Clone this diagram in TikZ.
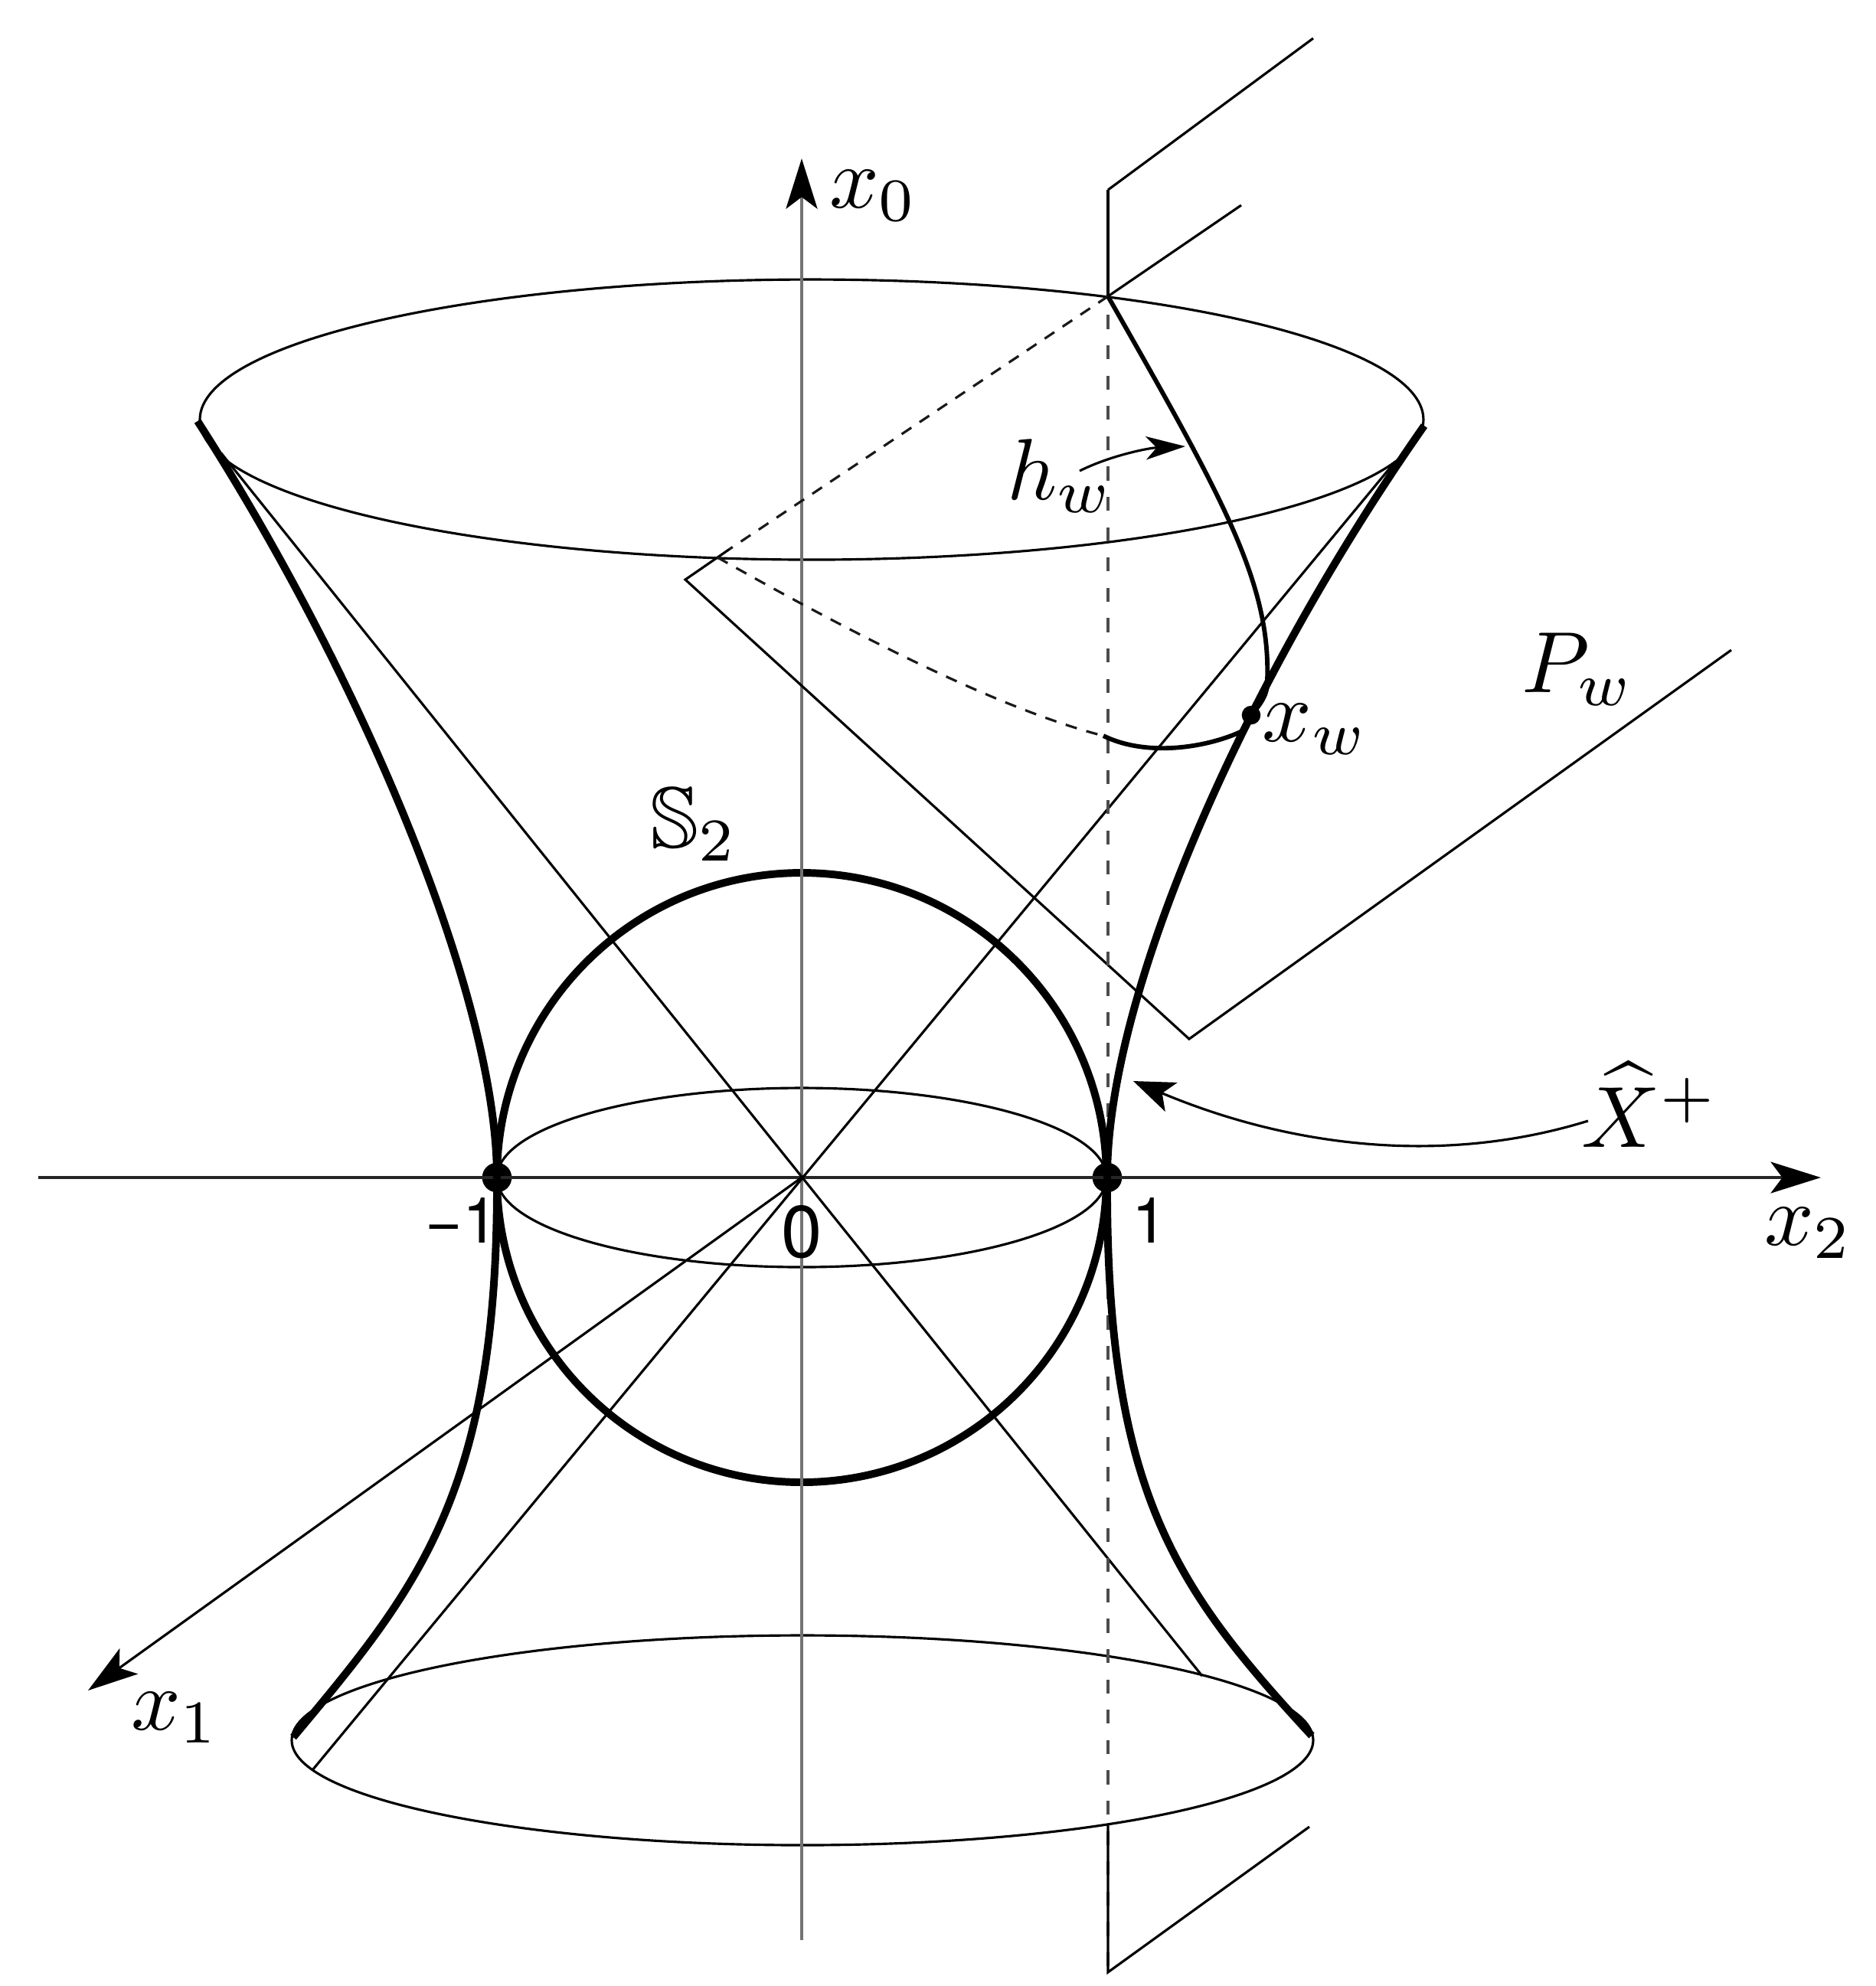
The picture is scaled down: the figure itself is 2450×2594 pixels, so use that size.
\documentclass[tikz,border=0pt]{standalone}
\usepackage{amsmath,amssymb}
\usepackage[no-math]{fontspec}
\newfontfamily\hvfont{TeX Gyre Heros}
\usetikzlibrary{arrows.meta}
\tikzset{
  thinln/.style={line width=0.27pt,black},
  xaxisln/.style={line width=0.33pt,black!85},
  yaxisln/.style={line width=0.42pt,black!55},
  thickln/.style={line width=0.85pt,black},
  medln/.style={line width=0.5pt,black},
  vdash/.style={line width=0.33pt,black!70,dash pattern=on 1.55pt off 1.836pt,dash phase=2.96pt},
  sdash/.style={line width=0.27pt,black!90,dash pattern=on 1.3pt off 1.1pt},
  axistip/.style={-{Stealth[length=5.6pt,width=3.5pt,inset=1.3pt,black]}},
  xtip/.style={-{Stealth[length=4.6pt,width=3.5pt,inset=1.1pt,black]}},
  smalltip/.style={-{Stealth[length=4.4pt,width=2.6pt,inset=1.2pt,black]}},
  dot/.style={circle,fill=black,inner sep=0pt,minimum size=3.3pt},
  wdot/.style={circle,fill=black,inner sep=0pt,minimum size=2.1pt},
  lab/.style={inner sep=0pt,outer sep=0pt,scale=0.97},
  numlab/.style={inner sep=0pt,outer sep=0pt,font=\hvfont\fontsize{7.1}{9}\selectfont},
  zerolab/.style={inner sep=0pt,outer sep=0pt,font=\hvfont\fontsize{8.2}{9}\selectfont},
}
\begin{document}
\begin{tikzpicture}[x=0.0855pt,y=-0.0855pt]
\useasboundingbox[fill=white] (0,0) rectangle (2450,2594);
% key points
\coordinate (O) at (1047,1538);
\coordinate (x2a) at (50,1538);
\coordinate (x2b) at (2378,1538);
\coordinate (x0a) at (1047,2534);
\coordinate (x0b) at (1047,207);
\coordinate (x1b) at (115,2208);
\coordinate (a1) at (289,592);
\coordinate (a2) at (1570,2189);
\coordinate (b1) at (1822,603);
\coordinate (b2) at (408,2312);
\coordinate (pa) at (895,757);
\coordinate (pb) at (1553,1357);
\coordinate (pc) at (2261,849);
\coordinate (pd) at (953,717);
\coordinate (pe) at (937,728);
\coordinate (va) at (1447,387);
\coordinate (vt) at (1447,248);
\coordinate (vtr) at (1715,50);
\coordinate (var) at (1621,268);
\coordinate (vbs) at (1447,2384);
\coordinate (vb) at (1447,2576);
\coordinate (vbr) at (1710,2386);
\coordinate (ve) at (1441,961);
\coordinate (gk) at (1655,890);
\coordinate (gs) at (1622,955);
\coordinate (tl) at (258,550);
\coordinate (tr) at (1860,556);
\coordinate (bl) at (383,2269);
\coordinate (brr) at (1713,2267);
\coordinate (hs) at (1410,615);
\coordinate (he) at (1548,583);
\coordinate (xs) at (2074,1464);
\coordinate (xe) at (1480,1412);
\node[dot] (m) at (649,1538) {};
\node[dot] (p) at (1446,1538) {};
\node[wdot] (w) at (1634,934) {};
% ellipses
\draw[thinln] (1060,548) ellipse [x radius=799,y radius=183];
\draw[thinln] (1047,1538) ellipse [x radius=398,y radius=117];
\draw[thinln] (1048,2273) ellipse [x radius=667,y radius=137];
% sphere
\draw[thickln] (O) circle [radius=398];
% axes
\draw[xaxisln,axistip] (x2a) -- (x2b);
\draw[yaxisln,axistip] (x0a) -- (x0b);
\draw[thinln,axistip] (O) -- (x1b);
% asymptotes
\draw[thinln] (a1) -- (a2);
\draw[thinln] (b1) -- (b2);
% plane
\draw[thinln] (pd) -- (pa) -- (pb) -- (pc);
\draw[sdash] (va) -- (pd);
\draw[sdash] (pe) .. controls (1100,820) and (1300,925) .. (ve);
\draw[thinln] (vt) -- (vtr);
\draw[thinln] (va) -- (var);
\draw[vdash] (vt) -- (vb);
\draw[thinln] (vbs) -- (vb) -- (vbr);
\draw[thinln] (vt) -- (va);
% hyperboloid outline
\draw[thickln] (tr) .. controls (1622,896) and (1446,1300) .. (p.center);
\draw[thickln] (tl) .. controls (470,880) and (649,1300) .. (m.center);
\draw[thickln] (p.center) .. controls (1444,1950) and (1536,2075) .. (brr);
\draw[thickln] (m.center) .. controls (651,1950) and (545,2075) .. (bl);
% geodesic
\draw[medln] (va) .. controls (1595,647) and (1660,760) .. (gk) .. controls (1656,905) and (1648,918) .. (w.center);
\draw[medln] (gs) .. controls (1580,975) and (1500,990) .. (ve);
% callouts
\draw[thinln,smalltip] (hs) .. controls (1450,595) and (1500,585) .. (he);
\draw[thinln,xtip] (xs) .. controls (1880,1524) and (1680,1496) .. (xe);
% labels
\node[lab] (lx0) at (1141,256) {$x_0$};
\node[lab] (lx1) at (229,2244) {$x_1$};
\node[lab] (lx2) at (2362,1611) {$x_2$};
\node[lab] (lxw) at (1718,953) {$x_w$};
\node[lab] (lpw) at (2061,874) {$P_w$};
\node[lab] (lhw) at (1385,622) {$h_w$};
\node[lab] (ls2) at (906,1077) {$\mathbb{S}_2$};
\node[lab] (lxp) at (2155,1443) {$\widehat{X}^+$};
\node[numlab] (ln) at (603,1594) {−1};
\node[zerolab] (lz) at (1047,1609) {0};
\node[numlab] (lo) at (1502,1594) {1};
\end{tikzpicture}
\end{document}
